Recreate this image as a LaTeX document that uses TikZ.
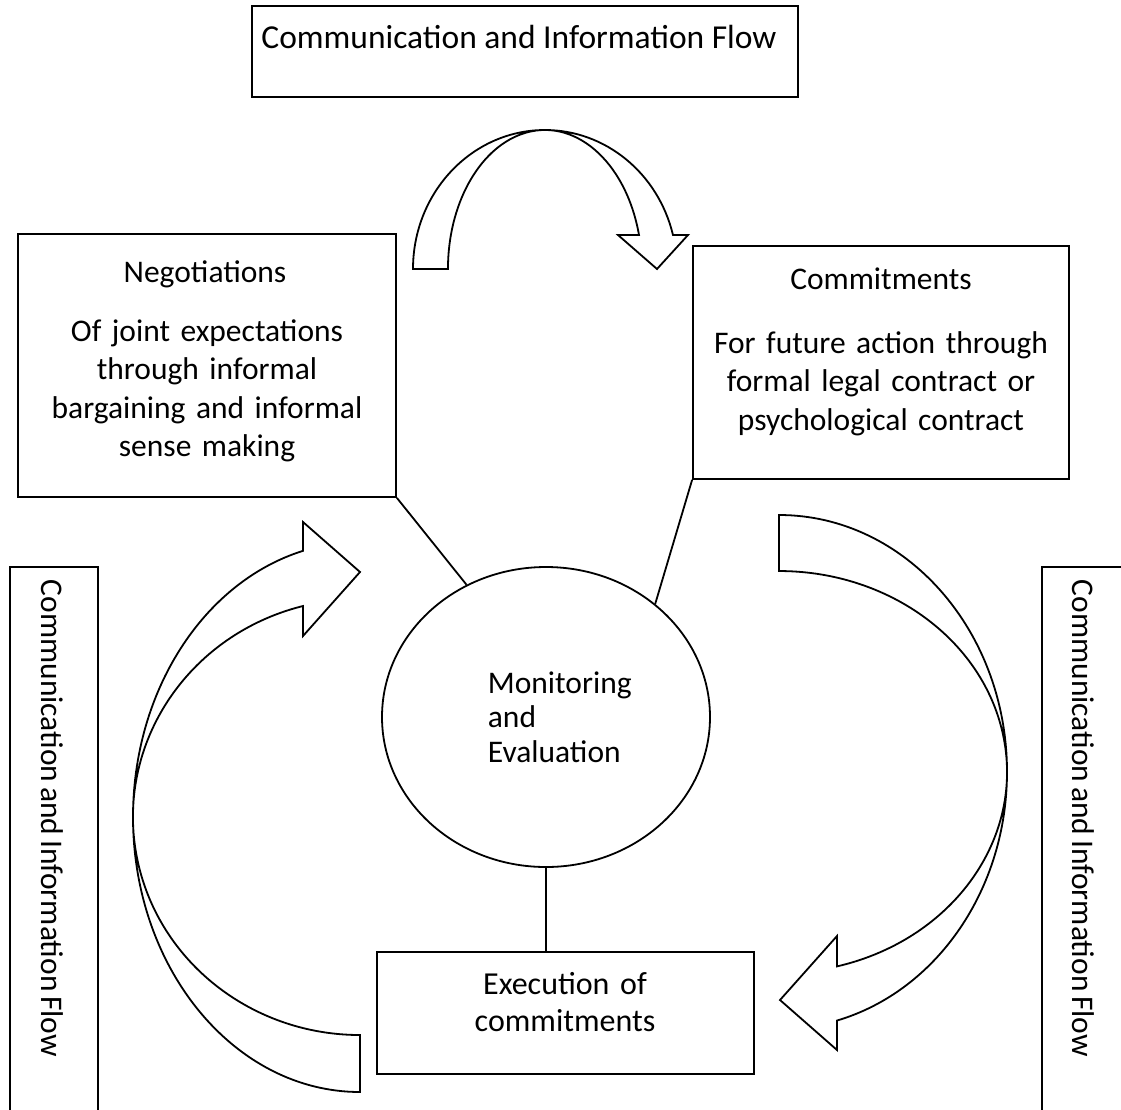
\documentclass[tikz,border=0pt]{standalone}
\usepackage{fontspec}
\setmainfont{Carlito}
\usetikzlibrary{shapes.geometric}
\protected\def\tightspaces{\spaceskip=0.15em\relax}
\begin{document}
\begin{tikzpicture}[x=1pt,y=1pt,
  line width=1.8pt,
  box/.style 2 args={draw, rectangle, inner sep=0pt, minimum width=#1, minimum height=#2},
  txt/.style={font=\fontsize{31.5}{38.5}\selectfont\tightspaces, inner sep=0pt},
  headtxt/.style={font=\fontsize{33.5}{40}\selectfont, inner sep=0pt},
  bandarrow/.style={draw, line join=miter, fill=white},
  conn/.style={draw}
]
\useasboundingbox (0,0) rectangle (1121,-1109);

% boxes
\node[box={546pt}{91pt}]  (flowtop)   at (525,-51.5)  {};
\node[box={378pt}{263pt}] (neg)       at (207,-365.5) {};
\node[box={376pt}{233pt}] (com)       at (881,-362.5) {};
\node[box={377pt}{122pt}] (exe)       at (565.5,-1013) {};
\node[box={88pt}{558pt}]  (flowleft)  at (54,-846)    {};
\node[box={88pt}{558pt}]  (flowright) at (1086,-846)  {};
\node[draw, ellipse, inner sep=0pt, minimum width=328pt, minimum height=300pt] (mon) at (546,-717) {};

% texts
\node[headtxt, anchor=base] (flowtoptxt) at (519,-48) {Communication and Information Flow};
\node[txt, anchor=base] (negtitle) at (205,-282) {Negotiations};
\node[txt, anchor=base, text width=380pt, align=center] (negbody) at (207,-341)
  {Of joint expectations\\through informal\\bargaining and informal\\sense making};
\node[txt, anchor=base] (comtitle) at (881,-289) {Commitments};
\node[txt, anchor=base, text width=380pt, align=center] (combody) at (881,-353)
  {For future action through\\formal legal contract or\\psychological contract};
\node[txt, font=\fontsize{31.5}{34.5}\selectfont, anchor=base west, text width=220pt, align=left] (montxt) at (487,-693)
  {Monitoring\\and\\Evaluation};
\node[txt, font=\fontsize{32}{37}\selectfont\tightspaces, anchor=base, text width=370pt, align=center] (exetxt) at (565,-994)
  {Execution of\\commitments};
\node[txt, rotate=-90, anchor=base west] (flowlefttxt) at (41,-579) {Communication and Information Flow};
\node[txt, rotate=-90, anchor=base west] (flowrighttxt) at (1072,-579) {Communication and Information Flow};

% connectors to the monitoring circle
\draw[conn] (neg.south east) -- (mon.121.5);
\draw[conn] (com.south west) -- (mon.46);
\draw[conn] (mon.south) -- (mon.south |- exe.north);

% curved arrow over the top: negotiations -> commitments
\path[bandarrow] (413,-269)
  arc[start angle=180, end angle=14.16, x radius=132pt, y radius=139pt]
  -- (688,-235) -- (657,-269) -- (618,-235) -- (639,-235)
  arc[start angle=14.16, end angle=180, x radius=97pt, y radius=139pt]
  -- cycle;

% curved arrow on the right: commitments -> execution
\path[bandarrow] (779,-515)
  arc[start angle=90, end angle=-75.26, x radius=228pt, y radius=257pt]
  -- (837,-1050) -- (780,-1000) -- (837,-936) -- (837,-966.4)
  arc[start angle=-75.26, end angle=90, x radius=228pt, y radius=201pt]
  -- cycle;

% curved arrow on the left: execution -> negotiations
\path[bandarrow] (360,-1092)
  arc[start angle=270, end angle=104.54, x radius=227pt, y radius=275pt]
  -- (303,-522) -- (360,-572) -- (303,-636) -- (303,-606)
  arc[start angle=104.54, end angle=270, x radius=227pt, y radius=218pt]
  -- cycle;
\end{tikzpicture}
\end{document}
